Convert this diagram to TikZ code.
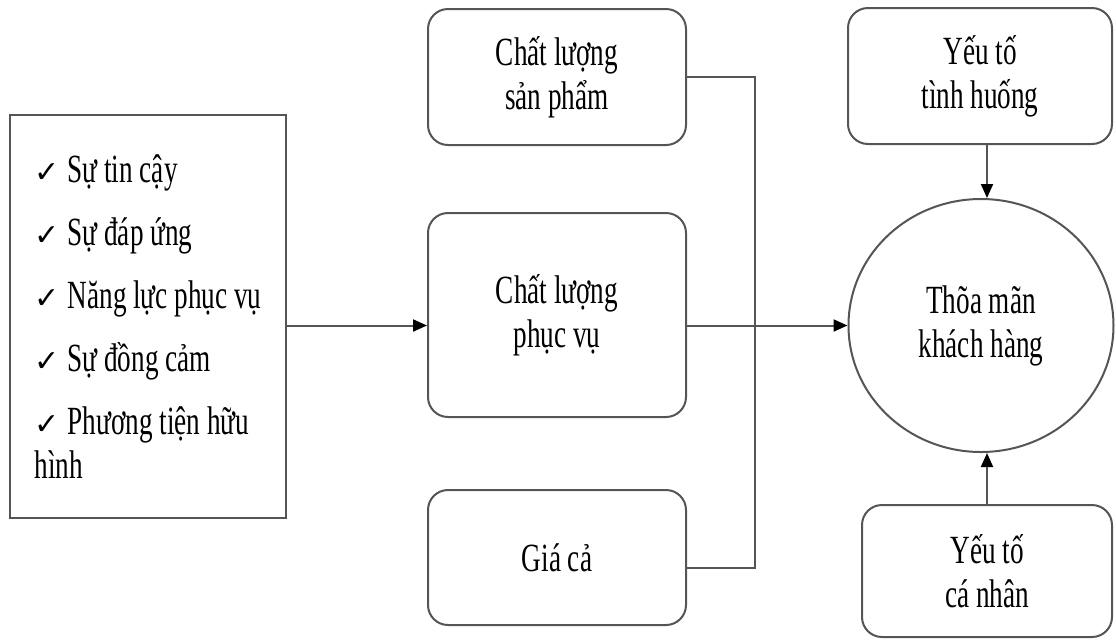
\documentclass[tikz,border=0pt]{standalone}
\usepackage{fontspec}
\setmainfont{Liberation Serif}[FakeStretch=0.68]
\newfontfamily\ckfont{DejaVu Sans}
\usetikzlibrary{positioning,shapes.geometric,arrows.meta}
\definecolor{boxline}{RGB}{85,85,85}
\newcommand{\ck}{{\ckfont\fontsize{15}{15}\selectfont ✓}\hspace{4pt}}
\tikzset{
  every node/.style={
    font=\fontsize{20}{22}\selectfont
  },
  box/.style={
    draw=boxline, line width=1pt, rounded corners=10pt,
    minimum width=129pt, align=center
  },
  conn/.style={draw=boxline, line width=1pt},
  arr/.style={conn, -{Triangle[color=black,length=7pt,width=6pt]}}
}

\begin{document}
\begin{tikzpicture}[x=0.5pt,y=-0.5pt]
  \useasboundingbox (0,0) rectangle (1116,639);
  % left list of service criteria
  \node[draw=boxline, line width=1pt, minimum width=138pt,
    minimum height=201.5pt, align=left] (Crit) at (148,316.5)
    {\ck Sự tin cậy\\[9.5pt] \ck Sự đáp ứng\\[9.5pt]
    \ck Năng lực phục vụ\\[9.5pt] \ck Sự đồng cảm\\[9.5pt]
    \ck Phương tiện hữu\\hình};
  % middle column
  \node[box, minimum height=68pt] (Prod) at (557,77) {Chất lượng\\sản phẩm};
  \node[box, minimum height=102pt] (Serv) at (557,315) {Chất lượng\\phục vụ};
  \node[box, minimum height=67.5pt] (Price) at (557,557.5) {Giá cả};
  % right column
  \node[ellipse, draw=boxline, line width=1pt, minimum width=132.5pt,
    minimum height=126.5pt, inner sep=0pt, align=center] (Sat)
    at (981,325.5) {Thõa mãn\\khách hàng};
  \node[box, minimum width=132pt, minimum height=68pt] (Situ)
    at (980,76) {Yếu tố\\tình huống};
  \node[box, minimum width=125pt, minimum height=66pt] (Pers)
    at (987,571) {Yếu tố\\cá nhân};
  \draw[arr] (Crit.east |- Sat.west) to (Serv.west |- Sat.west);
  \draw[arr] (Serv.east |- Sat.west) to (Sat.west);
  \draw[conn] (Prod.east) to ++(68,0) |- ([yshift=-5pt]Price.east);
  \draw[arr] (Situ.south -| Pers.north) to (Sat.north -| Pers.north);
  \draw[arr] (Pers.north) to (Sat.south -| Pers.north);
\end{tikzpicture}
\end{document}
